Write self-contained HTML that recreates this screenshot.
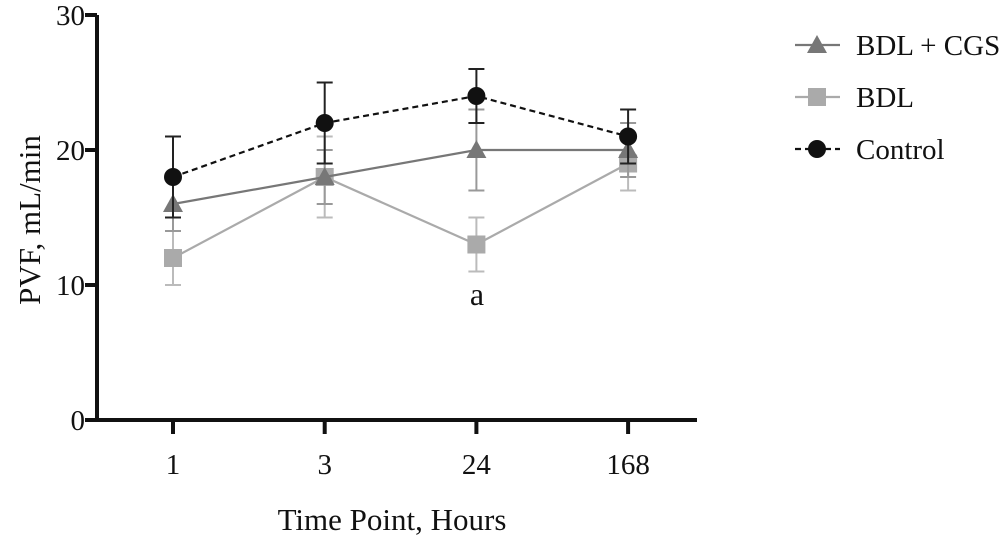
<!DOCTYPE html>
<html><head><meta charset="utf-8"><style>
html,body{margin:0;padding:0;background:#fff;width:1000px;height:537px;overflow:hidden}
text{font-family:"Liberation Serif",serif;fill:#111}
</style></head><body>
<svg id="chart" width="1000" height="537" viewBox="0 0 1000 537" xmlns="http://www.w3.org/2000/svg">
<g id="axes"></g>
<g id="series"></g>
<text x="477" y="305" font-size="32" text-anchor="middle">a</text>
<text x="392" y="530" font-size="31" text-anchor="middle">Time Point, Hours</text>
<text transform="translate(40,220) rotate(-90)" font-size="31" text-anchor="middle">PVF, mL/min</text>
<g id="legend"></g>
</svg>
<script>
const categories = ["1","3","24","168"];
const yTicks = [0,10,20,30];
const seriesNames = ["BDL + CGS","BDL","Control"];
const cgsValues = [16,18,20,20];
const cgsErr = [2,2,3,2];
const bdlValues = [12,18,13,19];
const bdlErr = [2,3,2,2];
const ctrlValues = [18,22,24,21];
const ctrlErr = [3,3,2,2];

const NS="http://www.w3.org/2000/svg";
const x0=97,x1=697,yBase=420,yTop=15;
function xPos(i){return 173+i*151.7;}
function yPos(v){return yBase-(v/30)*(yBase-yTop);}
function mk(tag,attrs,parent){const e=document.createElementNS(NS,tag);for(const k in attrs)e.setAttribute(k,attrs[k]);parent.appendChild(e);return e;}
const axes=document.getElementById('axes');
let e=mk('line',{x1:x0,y1:yTop,x2:x0,y2:yBase+2,stroke:'#111','stroke-width':4},axes);


e=mk('line',{x1:x0-2,y1:yBase,x2:x1,y2:yBase,stroke:'#111','stroke-width':4},axes);


yTicks.forEach(t=>{
  const y=yPos(t);
  let l=mk('line',{x1:x0-12,y1:y,x2:x0,y2:y,stroke:'#111','stroke-width':4},axes);
  
  
  let tx=mk('text',{x:x0-12,y:y+10,'font-size':29,'text-anchor':'end'},axes);tx.textContent=t;
  
  
});
categories.forEach((c,i)=>{
  const x=xPos(i);
  let l=mk('line',{x1:x,y1:yBase,x2:x,y2:yBase+14,stroke:'#111','stroke-width':4},axes);
  
  
  let tx=mk('text',{x:x,y:yBase+54,'font-size':29,'text-anchor':'middle'},axes);tx.textContent=c;
  
  
});
const ser=document.getElementById('series');
function marker(type,x,y,color,g){
  let m;
  if(type==='circle')m=mk('circle',{cx:x,cy:y,r:9,fill:color},g);
  else if(type==='square')m=mk('rect',{x:x-9,y:y-9,width:18,height:18,fill:color},g);
  else m=mk('polygon',{points:`${x},${y-10} ${x+10},${y+8} ${x-10},${y+8}`,fill:color},g);
  return m;
}
function drawSeries(name,vals,errs,color,errColor,type,dash){
  const g=mk('g',{},ser);
  
  
  vals.forEach((v,i)=>{
    const x=xPos(i);
    const eb=mk('path',{d:`M${x},${yPos(v-errs[i])}V${yPos(v+errs[i])}M${x-8},${yPos(v-errs[i])}H${x+8}M${x-8},${yPos(v+errs[i])}H${x+8}`,stroke:errColor,'stroke-width':2,fill:'none'},g);
    
    
  });
  const ln=mk('polyline',{points:vals.map((v,i)=>xPos(i)+','+yPos(v)).join(' '),fill:'none',stroke:color,'stroke-width':2.2,'stroke-dasharray':dash||'none'},g);
  
  
  vals.forEach((v,i)=>{
    const m=marker(type,xPos(i),yPos(v),color,g);
    
    
  });
}
drawSeries(seriesNames[1],bdlValues,bdlErr,'#aaaaaa','#bbbbbb','square');
drawSeries(seriesNames[0],cgsValues,cgsErr,'#777777','#999999','triangle');
drawSeries(seriesNames[2],ctrlValues,ctrlErr,'#111111','#222222','circle','6,4');
const leg=document.getElementById('legend');
const legTypes=['triangle','square','circle'],legColors=['#777777','#aaaaaa','#111111'],legDash=[null,null,'6,4'];
seriesNames.forEach((n,i)=>{
  const y=45+i*52;
  const g=mk('g',{},leg);
  
  
  mk('line',{x1:795,y1:y,x2:840,y2:y,stroke:legColors[i],'stroke-width':2.2,'stroke-dasharray':legDash[i]||'none'},g);
  marker(legTypes[i],817,y,legColors[i],g);
  const t=mk('text',{x:856,y:y+10,'font-size':29},g);t.textContent=n;
});
</script>
</body></html>
